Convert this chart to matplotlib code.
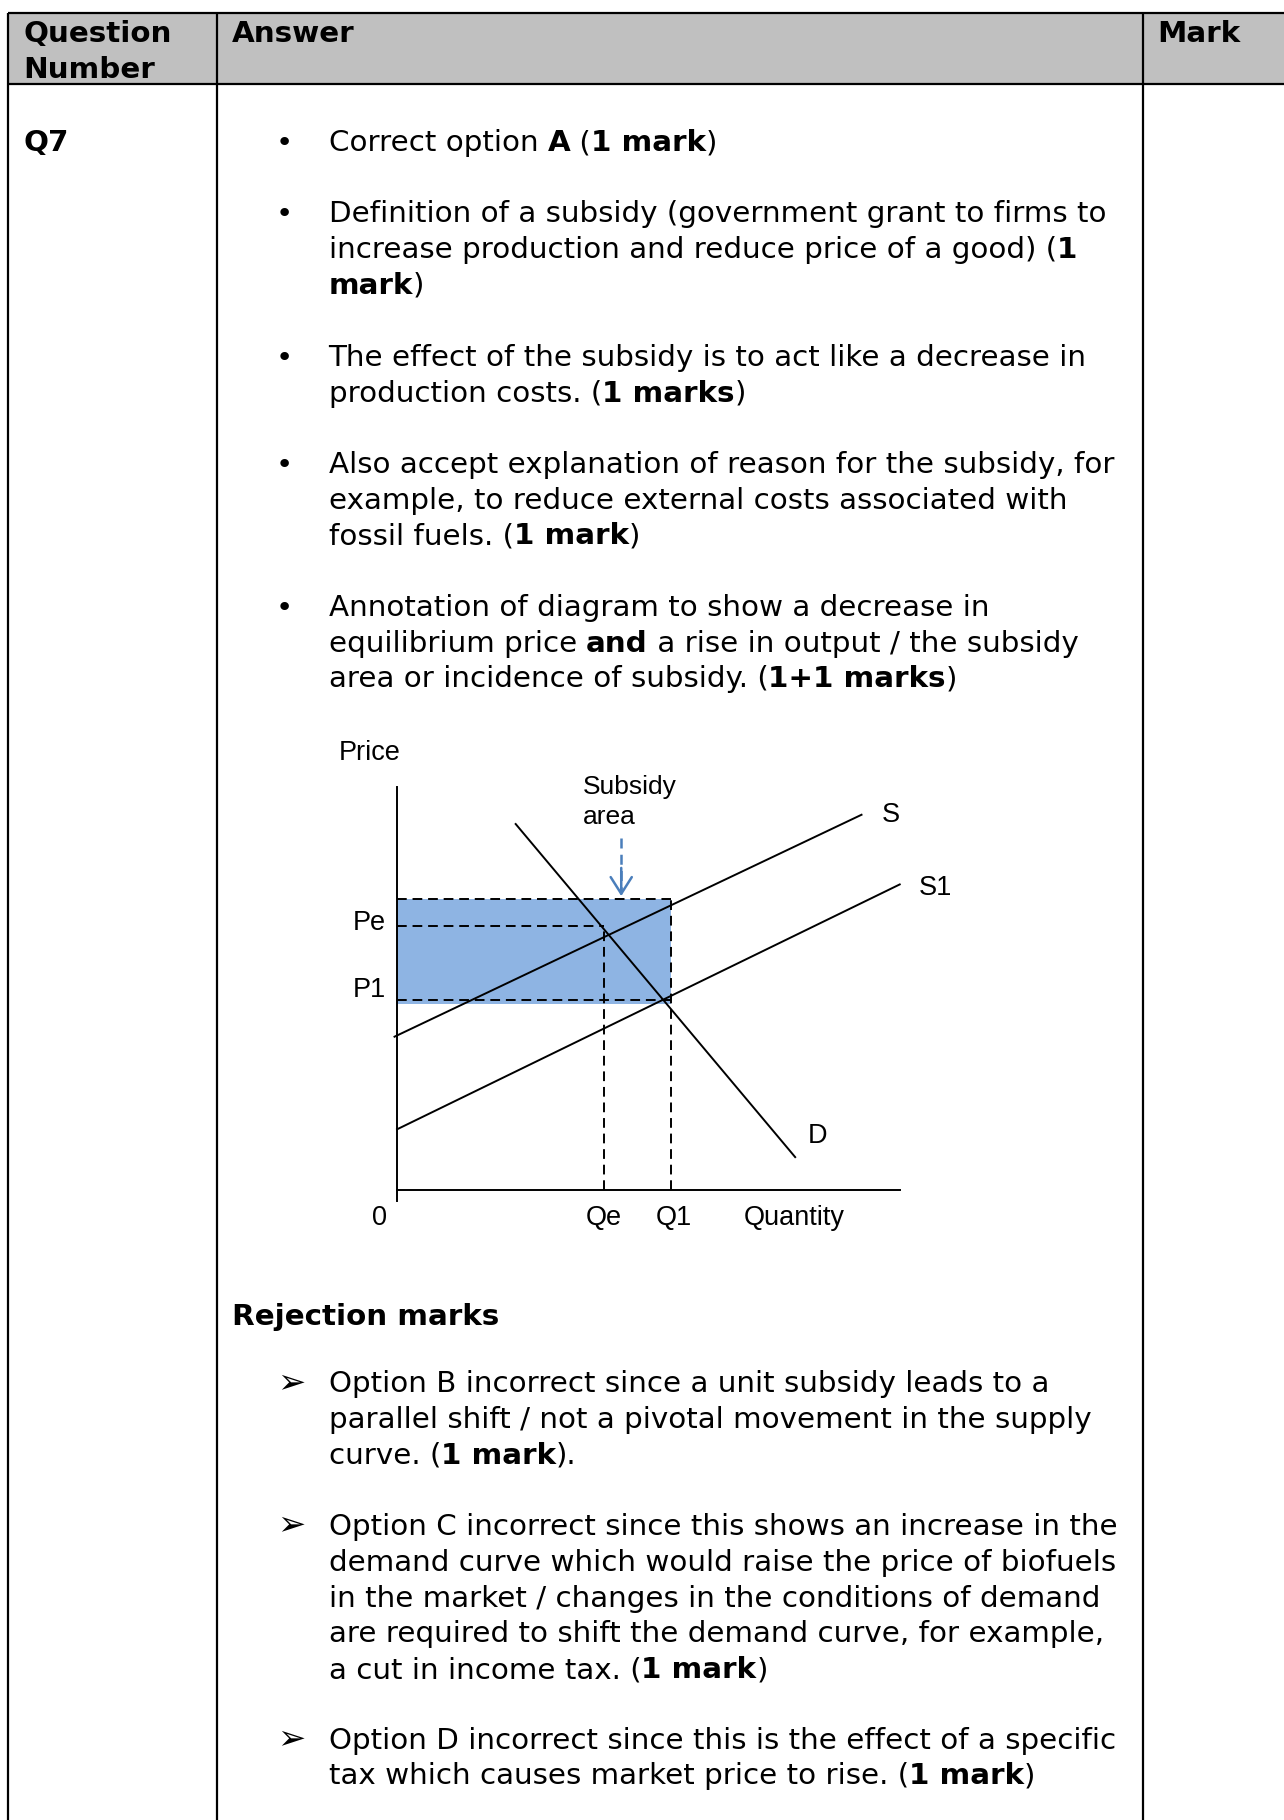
import matplotlib
matplotlib.use("Agg")
import matplotlib.pyplot as plt
from matplotlib.patches import Rectangle

# ---------------- data / content ----------------
header_labels = ["Question\nNumber", "Answer", "Mark"]
question_id = "Q7"

answer_blocks = [
    ["Correct option **A** (**1 mark**)"],
    ["Definition of a subsidy (government grant to firms to",
     "increase production and reduce price of a good) (**1**",
     "**mark**)"],
    ["The effect of the subsidy is to act like a decrease in",
     "production costs. (**1 marks**)"],
    ["Also accept explanation of reason for the subsidy, for",
     "example, to reduce external costs associated with",
     "fossil fuels. (**1 mark**)"],
    ["Annotation of diagram to show a decrease in",
     "equilibrium price **and** a rise in output / the subsidy",
     "area or incidence of subsidy. (**1+1 marks**)"],
]
rejection_title = "Rejection marks"
rejection_blocks = [
    ["Option B incorrect since a unit subsidy leads to a",
     "parallel shift / not a pivotal movement in the supply",
     "curve. (**1 mark**)."],
    ["Option C incorrect since this shows an increase in the",
     "demand curve which would raise the price of biofuels",
     "in the market / changes in the conditions of demand",
     "are required to shift the demand curve, for example,",
     "a cut in income tax. (**1 mark**)"],
    ["Option D incorrect since this is the effect of a specific",
     "tax which causes market price to rise. (**1 mark**)"],
]

# diagram (quantity, price) in arbitrary units
supply_q = [-0.05, 9.24]
supply_p = [3.80, 9.31]
supply1_q = [0.0, 10.0]
supply1_p = [1.50, 7.58]
demand_q = [2.36, 7.92]
demand_p = [9.08, 0.81]
Qe, Q1 = 4.11, 5.45
Pe, P1 = 6.54, 4.70
subsidy_top, subsidy_bottom = 7.23, 4.61
axis_max_q, axis_max_p = 10.0, 10.0
arrow_q, arrow_from_p, arrow_to_p = 4.46, 8.73, 7.29

# ---------------- layout ----------------
W, H = 1106, 1568
fig = plt.figure(figsize=(12.84, 18.20), dpi=100)
bg = fig.add_axes([0, 0, 1, 1])
bg.set_xlim(0, W)
bg.set_ylim(H, 0)
bg.axis('off')

BODY = 21.15
FAM = ['DejaVu Sans']
ARIAL = ['Liberation Sans', 'DejaVu Sans']
renderer = fig.canvas.get_renderer()
PX2U = W / 1284.0

def width_u(s, weight):
    t1 = bg.text(0, 0, s + '|', fontsize=BODY, fontweight=weight, family=FAM)
    t2 = bg.text(0, 0, '|', fontsize=BODY, fontweight=weight, family=FAM)
    w = t1.get_window_extent(renderer).width - t2.get_window_extent(renderer).width
    t1.remove(); t2.remove()
    return w * PX2U

def rich(x, y, markup):
    parts = markup.split('**')
    for i, p in enumerate(parts):
        if not p:
            continue
        wt = 'bold' if i % 2 else 'normal'
        bg.text(x, y, p, fontsize=BODY, fontweight=wt, family=FAM,
                va='baseline', ha='left', color='black')
        x += width_u(p, wt)

# table
top_y, head_y = 11.2, 72.4
col_x = [7.2, 186.5, 984.5]
bg.add_patch(Rectangle((col_x[0], top_y), W - col_x[0], head_y - top_y,
                       facecolor='#c0c0c0', edgecolor='none', zorder=0))
for yy in (top_y, head_y):
    bg.plot([col_x[0], W], [yy, yy], color='black', lw=1.6, solid_capstyle='butt')
for xx in col_x:
    bg.plot([xx, xx], [top_y, H], color='black', lw=1.6, solid_capstyle='butt')

BASE = 9.5
bg.text(20, 27 + BASE, "Question", fontsize=BODY, fontweight='bold', family=FAM, va='baseline')
bg.text(20, 58 + BASE, "Number", fontsize=BODY, fontweight='bold', family=FAM, va='baseline')
bg.text(200, 27 + BASE, header_labels[1], fontsize=BODY, fontweight='bold', family=FAM, va='baseline')
bg.text(997, 27 + BASE, header_labels[2], fontsize=BODY, fontweight='bold', family=FAM, va='baseline')
bg.text(20, 121 + BASE, question_id, fontsize=BODY, fontweight='bold', family=FAM, va='baseline')

PITCH = 30.8
answer_starts = [121, 182, 306, 398, 521]
for start, lines in zip(answer_starts, answer_blocks):
    bg.text(245, start + BASE, "\u2022", fontsize=BODY, family=FAM, va='baseline', ha='center')
    for k, ln in enumerate(lines):
        rich(283, start + k * PITCH + BASE, ln)

bg.text(200, 1132 + BASE, rejection_title, fontsize=BODY, fontweight='bold', family=FAM, va='baseline')
rej_starts = [1190, 1313, 1497]
for start, lines in zip(rej_starts, rejection_blocks):
    bg.text(251, start + 1, "\u27a2", fontsize=BODY * 1.15, family=FAM, va='center', ha='center')
    for k, ln in enumerate(lines):
        rich(283, start + k * PITCH + BASE, ln)

# ---------------- diagram ----------------
ax = fig.add_axes([342 / W, 1 - 1025 / H, 433 / W, 347 / H])
ax.set_xlim(0, axis_max_q)
ax.set_ylim(0, axis_max_p)
ax.axis('off')

DFS = 19.5
ax.add_patch(Rectangle((0, subsidy_bottom), Q1, subsidy_top - subsidy_bottom,
                       facecolor='#8eb4e3', edgecolor='none', zorder=1))
lw = 1.4
ax.plot([0, 0], [-0.29, axis_max_p], color='black', lw=lw, clip_on=False, zorder=3)
ax.plot([0, axis_max_q], [0, 0], color='black', lw=lw, clip_on=False, zorder=3)
ax.plot(supply_q, supply_p, color='black', lw=lw, clip_on=False, zorder=3)
ax.plot(supply1_q, supply1_p, color='black', lw=lw, clip_on=False, zorder=3)
ax.plot(demand_q, demand_p, color='black', lw=lw, clip_on=False, zorder=3)

dash = dict(color='black', lw=1.4, dashes=(5, 3), clip_on=False, zorder=2)
ax.plot([0, Q1], [subsidy_top, subsidy_top], **dash)
ax.plot([0, Qe], [Pe, Pe], **dash)
ax.plot([0, Q1], [P1, P1], **dash)
ax.plot([Qe, Qe], [0, Pe], **dash)
ax.plot([Q1, Q1], [0, subsidy_top], **dash)

acol = '#4a7ebb'
ax.plot([arrow_q, arrow_q], [arrow_from_p, arrow_to_p + 0.1], color=acol, lw=1.8,
        dashes=(4, 2.5), clip_on=False, zorder=4)
ax.annotate('', xy=(arrow_q, arrow_to_p), xytext=(arrow_q, arrow_to_p + 0.7),
            arrowprops=dict(arrowstyle='->,head_length=0.6,head_width=0.38',
                            mutation_scale=20, color=acol, lw=1.8,
                            shrinkA=0, shrinkB=0),
            annotation_clip=False, zorder=4)

def dlabel(x, y, s, ha='center'):
    ax.text(x, y, s, fontsize=DFS, family=ARIAL, ha=ha, va='center', clip_on=False)

dlabel(-0.55, 10.84, "Price")
ax.text(3.70, 10.0, "Subsidy", fontsize=DFS - 0.5, family=ARIAL, ha='left', va='center')
ax.text(3.70, 9.25, "area", fontsize=DFS - 0.5, family=ARIAL, ha='left', va='center')
dlabel(9.82, 9.31, "S")
dlabel(10.72, 7.49, "S1")
dlabel(8.36, 1.33, "D")
dlabel(-0.55, Pe + 0.08, "Pe")
dlabel(-0.55, P1 + 0.25, "P1")
dlabel(-0.35, -0.69, "0")
dlabel(Qe, -0.69, "Qe")
dlabel(Q1 + 0.05, -0.69, "Q1")
dlabel(7.90, -0.69, "Quantity")

fig.savefig("out.png", dpi=100)
